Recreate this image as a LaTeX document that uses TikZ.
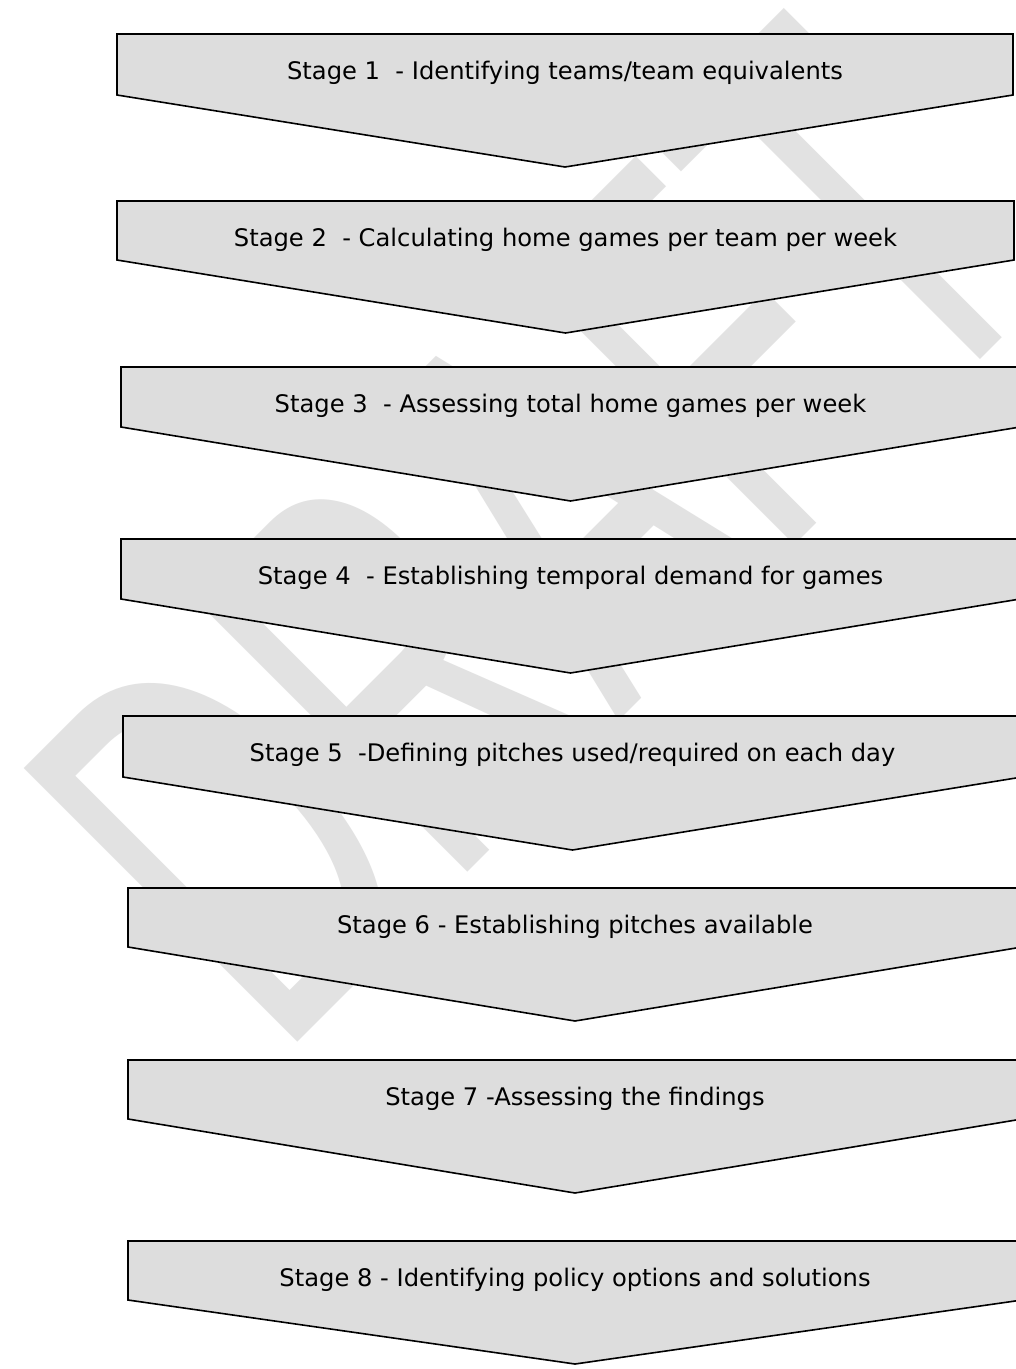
\documentclass[tikz,border=0pt]{standalone}
\usepackage{fontspec}
\setmainfont{DejaVu Sans}
\newfontfamily\wmfont{Liberation Sans}
\definecolor{boxgray}{RGB}{221,221,221}
\definecolor{wmgray}{RGB}{226,226,226}
\tikzset{
  chev/.style={draw=black, line width=1.6pt, fill=boxgray, line join=miter},
  lbl/.style={font=\fontsize{24.2}{29}\selectfont, text=black, inner sep=0pt},
  wm/.style={font=\wmfont\fontsize{450}{450}\selectfont, text=wmgray, inner sep=0pt}
}
\newcommand\stagebox[7]{%
  \path[chev] (#2,#3) -- (#5,#3) -- (#5,#4) -- ({(#2+#5)/2},#6) -- (#2,#4) -- cycle;
  \node[lbl] (#1) at ({(#2+#5)/2},#3+39) {#7};
}
\begin{document}
\begin{tikzpicture}[x=1pt,y=-1pt]
\useasboundingbox (0,0) rectangle (1016,1369);
\clip (0,0) rectangle (1016,1369);
\fill[white] (0,0) rectangle (1016,1369);
\node[wm, rotate=45, anchor=base west] (draft) at (278,1062) {\scalebox{0.74}[1.25]{DRAFT}};
\stagebox{s1}{117}{34}{95}{1013}{167}{Stage 1~ - Identifying teams/team equivalents}
\stagebox{s2}{117}{201}{260}{1014}{333}{Stage 2~ - Calculating home games per team per week}
\stagebox{s3}{121}{367}{427}{1020}{501}{Stage 3~ - Assessing total home games per week}
\stagebox{s4}{121}{539}{599}{1020}{673}{Stage 4~ - Establishing temporal demand for games}
\stagebox{s5}{123}{716}{777}{1022}{850}{Stage 5~ -Defining pitches used/required on each day}
\stagebox{s6}{128}{888}{947}{1022}{1021}{Stage 6 - Establishing pitches available}
\stagebox{s7}{128}{1060}{1119}{1022}{1193}{Stage 7 -Assessing the findings}
\stagebox{s8}{128}{1241}{1300}{1022}{1364}{Stage 8 - Identifying policy options and solutions}
\end{tikzpicture}
\end{document}
